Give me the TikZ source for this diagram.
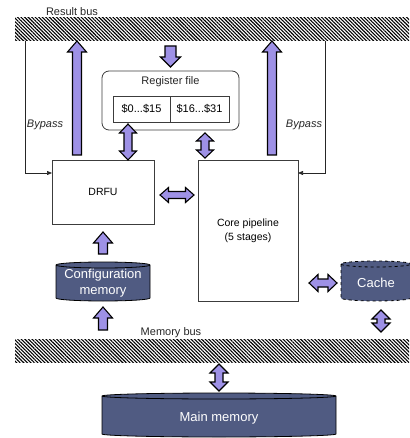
\documentclass[tikz,border=0pt]{standalone}
\usepackage{fontspec}
\setmainfont{Liberation Sans}
\usetikzlibrary{patterns.meta,arrows.meta,calc}
\pgfdeclarelayer{background}
\pgfsetlayers{background,main}
\definecolor{arrfill}{RGB}{158,145,230}
\definecolor{memfill}{RGB}{80,91,130}
\definecolor{boxline}{RGB}{60,60,60}
\newcommand\fsmall{\fontsize{11}{13}\selectfont}
\newcommand\fmid{\fontsize{10.5}{14}\selectfont}
\newcommand\fmem{\fontsize{13}{16}\selectfont}
\tikzset{
  bus/.style={anchor=north west, inner sep=0pt, outer sep=0pt, draw=none,
    pattern={Lines[angle=-45,distance=2.5pt,line width=1.1pt]}},
  plainbox/.style={anchor=north west, draw=boxline, line width=0.8pt, fill=white,
    inner sep=0pt, outer sep=0pt, align=center, font=\fsmall},
  memnode/.style={anchor=north west, inner sep=0pt, outer sep=0pt, text=white,
    align=center, font=\fmem},
  cylbody/.style={fill=memfill, draw=black, line width=0.8pt},
  blockarrow/.style={fill=arrfill, draw=black, line width=1.1pt, line join=miter},
  bypass/.style={draw=black!85, line width=0.7pt, -{Triangle[length=5pt,width=4pt]}},
  lbl/.style={font=\fsmall, text=black!85, inner sep=0pt},
}
% single vertical block arrow: tail #1, tip #2, shaft half-width #3, head half-width #4, head length #5
\newcommand\sarrV[5]{\draw[blockarrow] let \p1=(#1), \p2=(#2), \n1={sign(\y2-\y1)} in
  (\x2,\y2) -- ({\x2+#4},{\y2-(\n1)*#5}) -- ({\x2+#3},{\y2-(\n1)*#5}) -- ({\x2+#3},\y1)
  -- ({\x2-#3},\y1) -- ({\x2-#3},{\y2-(\n1)*#5}) -- ({\x2-#4},{\y2-(\n1)*#5}) -- cycle;}
% double vertical block arrow
\newcommand\darrV[5]{\draw[blockarrow] let \p1=(#1), \p2=(#2), \n1={sign(\y2-\y1)} in
  (\x1,\y1) -- ({\x1+#4},{\y1+(\n1)*#5}) -- ({\x1+#3},{\y1+(\n1)*#5}) -- ({\x1+#3},{\y2-(\n1)*#5})
  -- ({\x1+#4},{\y2-(\n1)*#5}) -- (\x1,\y2) -- ({\x1-#4},{\y2-(\n1)*#5}) -- ({\x1-#3},{\y2-(\n1)*#5})
  -- ({\x1-#3},{\y1+(\n1)*#5}) -- ({\x1-#4},{\y1+(\n1)*#5}) -- cycle;}
% double horizontal block arrow
\newcommand\darrH[5]{\draw[blockarrow] let \p1=(#1), \p2=(#2), \n1={sign(\x2-\x1)} in
  (\x1,\y1) -- ({\x1+(\n1)*#5},{\y1+#4}) -- ({\x1+(\n1)*#5},{\y1+#3}) -- ({\x2-(\n1)*#5},{\y1+#3})
  -- ({\x2-(\n1)*#5},{\y1+#4}) -- (\x2,\y1) -- ({\x2-(\n1)*#5},{\y1-#4}) -- ({\x2-(\n1)*#5},{\y1-#3})
  -- ({\x1+(\n1)*#5},{\y1-#3}) -- ({\x1+(\n1)*#5},{\y1-#4}) -- cycle;}
% cylinder drawn around a node: #1 node, #2 end radius, #3 extra height above node, #4 extra style
\newcommand\drawcyl[4]{%
  \begin{pgfonlayer}{background}
  \path[cylbody,#4] let \p1=([yshift=#3]#1.north west), \p2=(#1.south east), \n1={(\x2-\x1)/2} in
    (\x1,\y1-#2) -- (\x1,\y2+#2) arc[start angle=180,end angle=360,x radius={\n1*1pt},y radius=#2]
    -- (\x2,\y1-#2) arc[start angle=0,end angle=180,x radius={\n1*1pt},y radius=#2] -- cycle
    (\x1,\y1-#2) arc[start angle=180,end angle=360,x radius={\n1*1pt},y radius=#2];
  \end{pgfonlayer}}
\begin{document}
\begin{tikzpicture}[x=1pt,y=-1pt]
\useasboundingbox (0,0) rectangle (409,438);
\clip (0,0) rectangle (409,438);
% buses
\node[bus, minimum width=400pt, minimum height=23pt] (resbus) at (15,18) {};
\node[lbl] (rbl) at (72,12) {Result bus};
\node[bus, minimum width=400pt, minimum height=23pt] (membus) at (15,339) {};
\node[lbl] (mbl) at (171,333) {Memory bus};
% register file
\node[plainbox, rounded corners=7pt, minimum width=137pt, minimum height=59pt] (regfile) at (102,71) {};
\node[lbl] (reglbl) at (170.5,82) {Register file};
\node[plainbox, minimum width=57pt, minimum height=26pt] (r1) at (113,96) {\$0...\$15};
\node[plainbox, minimum width=59pt, minimum height=26pt] (r2) at (r1.north east) {\$16...\$31};
% units
\node[plainbox, minimum width=102pt, minimum height=64pt, font=\fmid] (drfu) at (52,160) {DRFU};
\node[plainbox, minimum width=100pt, minimum height=141pt, font=\fmid] (core) at (198,160) {Core pipeline\\(5 stages)};
% memories (node = cylinder body below the top lid)
\node[memnode, minimum width=94pt, minimum height=36pt] (config) at (56,265) {Configuration\\memory};
\node[memnode, minimum width=70pt, minimum height=36pt] (cache) at (341,265) {Cache};
\node[memnode, minimum width=234pt, minimum height=37pt] (mainmem) at (102,400) {Main memory};
\drawcyl{config}{3pt}{3pt}{}
\drawcyl{cache}{3pt}{4pt}{dashed}
\drawcyl{mainmem}{3pt}{7pt}{}
% bypass lines
\draw[bypass] ([xshift=10pt]resbus.south west) |- ([yshift=-13pt]drfu.north west);
\draw[bypass] ([xshift=310pt]resbus.south west) |- ([yshift=-13pt]core.north east);
\node[lbl, font=\fsmall\itshape] (bpl) at (45,125) {Bypass};
\node[lbl, font=\fsmall\itshape] (bpr) at (304,125) {Bypass};
% block arrows
\coordinate (u1a) at ([xshift=25pt,yshift=5pt]drfu.north west);
\coordinate (u1b) at (u1a |- resbus.south);
\sarrV{u1a}{u1b}{4.5pt}{9.5pt}{11pt}
\coordinate (u2a) at ([xshift=74pt,yshift=5pt]core.north west);
\coordinate (u2b) at (u2a |- resbus.south);
\sarrV{u2a}{u2b}{4.5pt}{9.5pt}{11pt}
\coordinate (rfa) at ([yshift=-5pt]resbus.south -| regfile.north);
\coordinate (rfb) at ([yshift=4pt]regfile.north);
\sarrV{rfa}{rfb}{5.5pt}{10pt}{10pt}
\coordinate (rd1) at ([xshift=-42.5pt,yshift=6pt]regfile.south);
\coordinate (rd2) at (rd1 |- drfu.north);
\darrV{rd1}{rd2}{4pt}{8.5pt}{9pt}
\coordinate (rc1) at ([xshift=34.5pt,yshift=-3pt]regfile.south);
\coordinate (rc2) at ([yshift=2pt]rc1 |- core.north);
\darrV{rc1}{rc2}{4pt}{8.5pt}{8pt}
\coordinate (dc1) at ([xshift=6pt,yshift=-3pt]drfu.east);
\coordinate (dc2) at ([xshift=-4pt]dc1 -| core.west);
\darrH{dc1}{dc2}{3.5pt}{7.5pt}{8.5pt}
\coordinate (cd1) at ([yshift=11pt]config.north);
\coordinate (cd2) at ([yshift=-8pt]drfu.south);
\sarrV{cd1}{cd2}{4.5pt}{9.5pt}{11pt}
\coordinate (bc1) at ([yshift=9pt]membus.north -| config.south);
\coordinate (bc2) at ([yshift=-6pt]config.south);
\sarrV{bc1}{bc2}{4.5pt}{9.5pt}{11pt}
\coordinate (cc1) at ([xshift=11pt]core.east |- cache.west);
\coordinate (cc2) at ([xshift=-4pt]cache.west);
\darrH{cc1}{cc2}{4pt}{8.5pt}{9pt}
\coordinate (cb1) at ([xshift=5pt,yshift=-9pt]cache.south);
\coordinate (cb2) at ([yshift=7pt]cb1 |- membus.north);
\darrV{cb1}{cb2}{4pt}{9pt}{9pt}
\coordinate (bm1) at ([yshift=-2pt]membus.south -| mainmem.north);
\coordinate (bm2) at ([yshift=9pt]mainmem.north);
\darrV{bm1}{bm2}{4pt}{9pt}{9pt}
\end{tikzpicture}
\end{document}
